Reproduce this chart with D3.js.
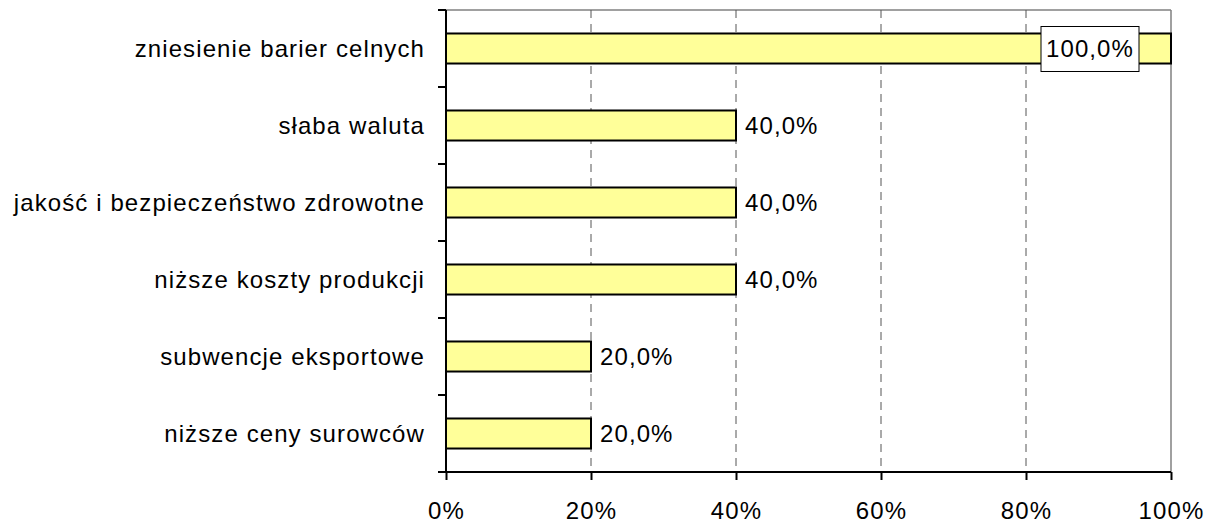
<!DOCTYPE html>
<html>
<head>
<meta charset="utf-8">
<script src="https://cdn.jsdelivr.net/npm/d3@7"></script>
<style>
  body { margin: 0; background: #fff; }
  svg { display: block; font-family: "Liberation Sans", Arial, sans-serif; }
  text { font-size: 24px; letter-spacing: 1.1px; fill: #000; }
</style>
</head>
<body>
<svg id="chart" width="1215" height="525"></svg>
<script>
// Reasons, top to bottom, and their share of answers
const categories = [
  "zniesienie barier celnych",
  "słaba waluta",
  "jakość i bezpieczeństwo zdrowotne",
  "niższe koszty produkcji",
  "subwencje eksportowe",
  "niższe ceny surowców"
];
const values = [100, 40, 40, 40, 20, 20];
const xTicks = [0, 20, 40, 60, 80, 100];

const svg = d3.select("#chart");
const plotLeft = 446, plotRight = 1171, plotTop = 10, plotBottom = 472;

const x = d3.scaleLinear().domain([0, 100]).range([plotLeft, plotRight]);
const y = d3.scaleBand().domain(categories).range([plotTop, plotBottom]).paddingInner(0.61).paddingOuter(0.305);

// Plot-area frame (top and right edges in grey)
svg.append("line").attr("x1", plotLeft).attr("x2", plotRight).attr("y1", plotTop).attr("y2", plotTop)
  .attr("stroke", "#808080").attr("stroke-width", 1.5);
svg.append("line").attr("x1", plotRight).attr("x2", plotRight).attr("y1", plotTop).attr("y2", plotBottom)
  .attr("stroke", "#808080").attr("stroke-width", 1.5);

// Dashed vertical gridlines
svg.append("g").selectAll("line").data(xTicks.filter(t => t > 0 && t < 100)).join("line")
  .attr("x1", d => x(d)).attr("x2", d => x(d)).attr("y1", plotTop).attr("y2", plotBottom)
  .attr("stroke", "#555").attr("stroke-width", 1).attr("stroke-dasharray", "8,6");

// Bars
svg.append("g").selectAll("rect").data(values).join("rect")
  .attr("x", x(0))
  .attr("y", (d, i) => y(categories[i]))
  .attr("width", d => x(d) - x(0))
  .attr("height", y.bandwidth())
  .attr("fill", "#FFFF99")
  .attr("stroke", "#000").attr("stroke-width", 2);

// Value labels
const fmt = v => d3.format(".1f")(v).replace(".", ",") + "%";
values.forEach((v, i) => {
  const cy = y(categories[i]) + y.bandwidth() / 2;
  if (v >= 100) {
    const g = svg.append("g");
    const cx = x(v) - 81;
    g.append("rect").attr("x", cx - 49).attr("y", cy - 22).attr("width", 98).attr("height", 45)
      .attr("fill", "#fff").attr("stroke", "#000").attr("stroke-width", 1);
    g.append("text").attr("x", cx).attr("y", cy).attr("dy", "0.35em")
      .attr("text-anchor", "middle").text(fmt(v));
  } else {
    svg.append("text").attr("x", x(v) + 9).attr("y", cy).attr("dy", "0.35em").text(fmt(v));
  }
});

// Category axis
const yAxis = svg.append("g").attr("transform", `translate(${plotLeft},0)`);
yAxis.append("line").attr("x1", 0).attr("x2", 0).attr("y1", plotTop).attr("y2", plotBottom)
  .attr("stroke", "#000").attr("stroke-width", 2);
const bounds = d3.range(categories.length + 1).map(i => plotTop + i * (plotBottom - plotTop) / categories.length);
yAxis.selectAll("line.tk").data(bounds).join("line").attr("class", "tk")
  .attr("x1", -8).attr("x2", 0).attr("y1", d => d).attr("y2", d => d)
  .attr("stroke", "#000").attr("stroke-width", 2);
yAxis.selectAll("text").data(categories).join("text")
  .attr("x", -21).attr("y", d => y(d) + y.bandwidth() / 2).attr("dy", "0.35em")
  .attr("text-anchor", "end").text(d => d);

// Value axis
const xAxis = svg.append("g").attr("transform", `translate(0,${plotBottom})`)
  .call(d3.axisBottom(x).tickValues(xTicks).tickFormat(d => d + "%").tickSize(8).tickPadding(22));
xAxis.attr("font-size", null).attr("font-family", null);
xAxis.select(".domain").attr("stroke-width", 2).attr("d", `M${plotLeft - 8},0H${plotRight}`);
xAxis.selectAll(".tick line").attr("stroke-width", 2);
xAxis.selectAll(".tick text").attr("fill", "#000");
</script>
</body>
</html>
